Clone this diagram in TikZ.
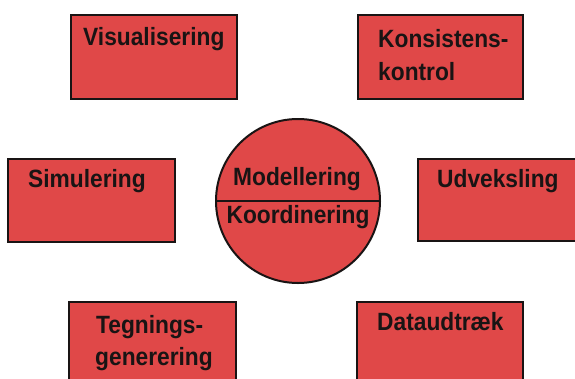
\documentclass[tikz,border=0pt]{standalone}
\usepackage{fontspec}
\setmainfont{Liberation Sans}
\newfontfamily\labfont[FakeStretch=0.91]{Liberation Sans}
\definecolor{boxred}{RGB}{224,72,72}
\definecolor{edge}{RGB}{25,20,20}
\tikzset{
  box/.style={draw=edge, line width=2pt, fill=boxred, rectangle, inner sep=0pt},
  hub/.style={draw=edge, line width=2pt, fill=boxred, circle, inner sep=0pt, minimum size=164pt},
  lbl/.style={font=\labfont\bfseries\fontsize{25}{30}\selectfont, text=edge, inner sep=0pt, anchor=base west},
  clbl/.style={lbl, anchor=base},
}
\begin{document}
\begin{tikzpicture}[x=1pt,y=-1pt]
\clip (0,0) rectangle (575,378);
\fill[white] (0,0) rectangle (575,378);
% boxes
\node[box, minimum width=166pt, minimum height=84pt] (vis) at (154,57) {};
\node[box, minimum width=165pt, minimum height=84pt] (kon) at (440.5,57) {};
\node[box, minimum width=167pt, minimum height=83pt] (sim) at (91.5,200.5) {};
\node[box, minimum width=182pt, minimum height=82pt] (udv) at (509,200) {};
\node[box, minimum width=167pt, minimum height=88pt] (teg) at (152.5,346) {};
\node[box, minimum width=166pt, minimum height=88pt] (dat) at (440,346) {};
% hub
\node[hub] (hub) at (298,201) {};
\draw[edge, line width=2pt] (hub.180) -- (hub.0);
% labels
\node[lbl] (tvis) at (83,45) {Visualisering};
\node[lbl] (tkon1) at (378,47) {Konsistens-};
\node[lbl] (tkon2) at (378,80) {kontrol};
\node[lbl] (tsim) at (28,187) {Simulering};
\node[lbl] (tudv) at (437,187) {Udveksling};
\node[lbl] (tteg1) at (96,333) {Tegnings-};
\node[lbl] (tteg2) at (95,365) {generering};
\node[lbl] (tdat) at (377,330) {Dataudtræk};
\node[clbl] (tmod) at (297,185) {Modellering};
\node[clbl] (tkoo) at (298,223) {Koordinering};
\end{tikzpicture}
\end{document}
